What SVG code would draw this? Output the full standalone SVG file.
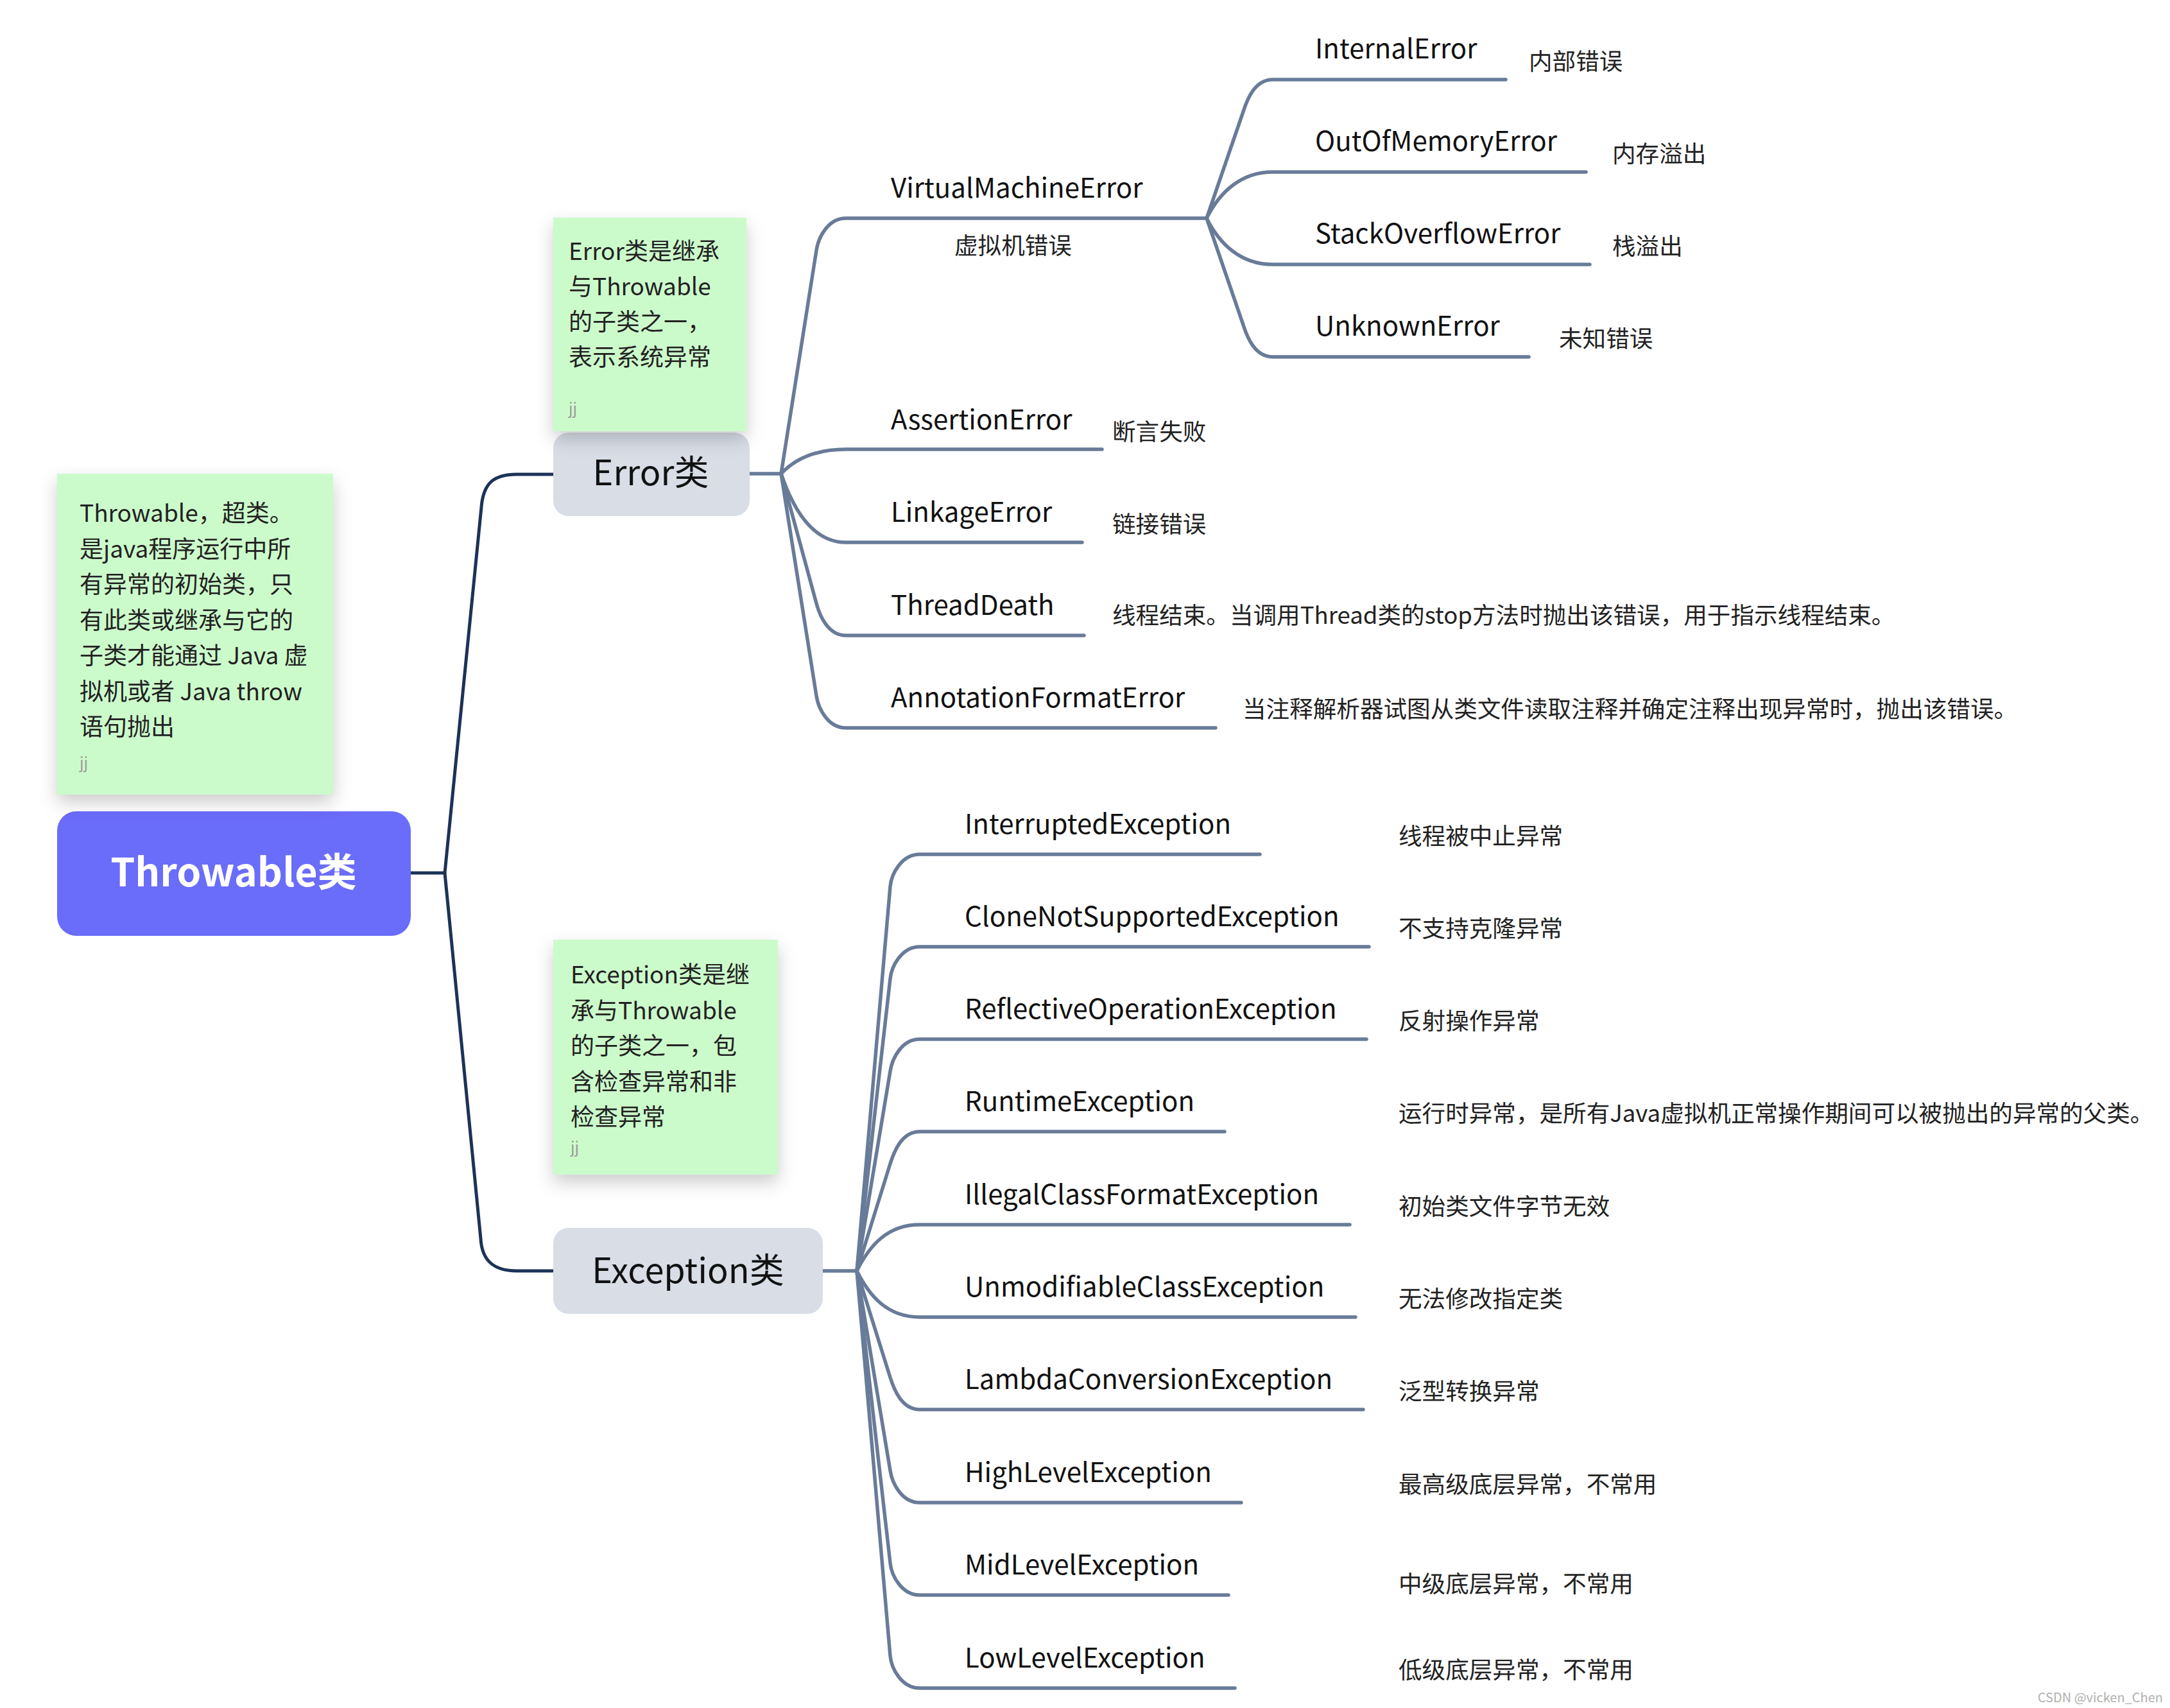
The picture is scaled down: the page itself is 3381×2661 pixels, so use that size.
<svg xmlns="http://www.w3.org/2000/svg" width="3381" height="2661" viewBox="0 0 3381 2661">
<defs>
<filter id="sh" x="-20%" y="-20%" width="140%" height="150%">
<feDropShadow dx="0" dy="12" stdDeviation="14" flood-color="#000" flood-opacity="0.2"/>
</filter>
<style>
text{font-family:"Noto Sans CJK SC","Noto Sans",sans-serif;}
.lbl{font-size:42px;fill:#111;}
.desc{font-size:36.6px;fill:#222;}
.note{font-size:37px;fill:#222;}
.jj{font-size:24px;fill:#9a9a9a;}
.l2t{font-size:54px;fill:#111;}
.navy{fill:none;stroke:#1c3357;stroke-width:5;stroke-linecap:round;stroke-linejoin:round;}
.slate{fill:none;stroke:#687b98;stroke-width:5.5;stroke-linecap:round;stroke-linejoin:round;}
.notebox{fill:#ccfbcb;filter:url(#sh);}
.l2{fill:#d8dde6;}
</style>
</defs>
<rect width="3381" height="2661" fill="#fff"/>

<g id="connectors">
<path class="navy" d="M640 1360 H693 L750 790 C753 752 770 739 805 739 L862 739"/>
<path class="navy" d="M693 1360 L749 1930 C751 1965 770 1980 805 1980 L861 1980"/>
<path class="slate" d="M1166 738 H1217"/>
<path class="slate" d="M1217 738 L1272 390 C1275 370 1290 340 1318 340 H1880"/>
<path class="slate" d="M1217 738 C1237 717 1268 700 1318 700 H1717"/>
<path class="slate" d="M1217 738 C1237 797 1268 845 1318 845 H1686"/>
<path class="slate" d="M1217 738 L1272 940 C1277 959 1290 990 1318 990 H1689"/>
<path class="slate" d="M1217 738 L1272 1084 C1275 1104 1290 1134 1318 1134 H1894"/>
<path class="slate" d="M1880 340 L1937 174 C1943 155 1955 124 1983 124 H2346"/>
<path class="slate" d="M1880 340 C1900 300 1933 268 1983 268 H2471"/>
<path class="slate" d="M1880 340 C1900 380 1933 412 1983 412 H2477"/>
<path class="slate" d="M1880 340 L1937 506 C1943 525 1955 556 1983 556 H2382"/>
<path class="slate" d="M1282 1980 H1335"/>
<path class="slate" d="M1335 1980 L1387 1381 C1389 1361 1405 1331 1433 1331 H1963"/>
<path class="slate" d="M1335 1980 L1387 1525 C1389 1505 1405 1475 1433 1475 H2133"/>
<path class="slate" d="M1335 1980 L1387 1669 C1390 1649 1405 1619 1433 1619 H2129"/>
<path class="slate" d="M1335 1980 L1387 1813 C1393 1794 1405 1763 1433 1763 H1908"/>
<path class="slate" d="M1335 1980 C1355 1940 1383 1908 1433 1908 H2103"/>
<path class="slate" d="M1335 1980 C1355 2020 1383 2052 1433 2052 H2112"/>
<path class="slate" d="M1335 1980 L1387 2146 C1393 2165 1405 2196 1433 2196 H2124"/>
<path class="slate" d="M1335 1980 L1387 2291 C1390 2311 1405 2341 1433 2341 H1934"/>
<path class="slate" d="M1335 1980 L1387 2435 C1389 2455 1405 2485 1433 2485 H1914"/>
<path class="slate" d="M1335 1980 L1387 2580 C1389 2600 1405 2630 1433 2630 H1924"/>
</g>

<g id="node-throwable">
<rect x="89" y="1264" width="551" height="194" rx="30" fill="#6a6cfa"/>
<text x="364" y="1381" text-anchor="middle" font-size="61" font-weight="bold" fill="#fff">Throwable类</text>
</g>
<g id="note-throwable">
<rect class="notebox" x="89" y="738" width="430" height="500"/>
<text class="note" x="124" y="813">Throwable，超类。</text>
<text class="note" x="124" y="869">是java程序运行中所</text>
<text class="note" x="124" y="924">有异常的初始类，只</text>
<text class="note" x="124" y="980">有此类或继承与它的</text>
<text class="note" x="124" y="1035">子类才能通过 Java 虚</text>
<text class="note" x="124" y="1091">拟机或者 Java throw</text>
<text class="note" x="124" y="1146">语句抛出</text>
<text class="jj" x="124" y="1197">jj</text>
</g>

<g id="node-error">
<rect class="l2" x="862" y="674" width="306" height="130" rx="24"/>
<text class="l2t" x="1014" y="756" text-anchor="middle">Error类</text>
</g>
<g id="note-error">
<rect class="notebox" x="862" y="339" width="301" height="333"/>
<text class="note" x="886" y="405">Error类是继承</text>
<text class="note" x="886" y="460">与Throwable</text>
<text class="note" x="886" y="515">的子类之一，</text>
<text class="note" x="886" y="570">表示系统异常</text>
<text class="jj" x="886" y="645">jj</text>
</g>

<g id="node-exception">
<rect class="l2" x="862" y="1913" width="420" height="134" rx="24"/>
<text class="l2t" x="1072" y="1999" text-anchor="middle" font-size="53">Exception类</text>
</g>
<g id="note-exception">
<rect class="notebox" x="862" y="1464" width="350" height="366"/>
<text class="note" x="889" y="1532">Exception类是继</text>
<text class="note" x="889" y="1588">承与Throwable</text>
<text class="note" x="889" y="1643">的子类之一，包</text>
<text class="note" x="889" y="1699">含检查异常和非</text>
<text class="note" x="889" y="1754">检查异常</text>
<text class="jj" x="889" y="1796">jj</text>
</g>

<g id="node-virtualmachineerror">
<text class="lbl" x="1388" y="308">VirtualMachineError</text>
<text class="desc" x="1487" y="396">虚拟机错误</text>
</g>
<g id="node-internalerror">
<text class="lbl" x="2049" y="91">InternalError</text>
<text class="desc" x="2382" y="109">内部错误</text>
</g>
<g id="node-outofmemoryerror">
<text class="lbl" x="2049" y="235">OutOfMemoryError</text>
<text class="desc" x="2512" y="253">内存溢出</text>
</g>
<g id="node-stackoverflowerror">
<text class="lbl" x="2049" y="379">StackOverflowError</text>
<text class="desc" x="2512" y="397">栈溢出</text>
</g>
<g id="node-unknownerror">
<text class="lbl" x="2049" y="523">UnknownError</text>
<text class="desc" x="2429" y="541">未知错误</text>
</g>
<g id="node-assertionerror">
<text class="lbl" x="1388" y="669">AssertionError</text>
<text class="desc" x="1733" y="686">断言失败</text>
</g>
<g id="node-linkageerror">
<text class="lbl" x="1388" y="813">LinkageError</text>
<text class="desc" x="1733" y="830">链接错误</text>
</g>
<g id="node-threaddeath">
<text class="lbl" x="1388" y="958">ThreadDeath</text>
<text class="desc" x="1733" y="972">线程结束。当调用Thread类的stop方法时抛出该错误，用于指示线程结束。</text>
</g>
<g id="node-annotationformaterror">
<text class="lbl" x="1388" y="1102">AnnotationFormatError</text>
<text class="desc" x="1936" y="1118">当注释解析器试图从类文件读取注释并确定注释出现异常时，抛出该错误。</text>
</g>

<g id="node-interruptedexception">
<text class="lbl" x="1503" y="1299">InterruptedException</text>
<text class="desc" x="2179" y="1316">线程被中止异常</text>
</g>
<g id="node-clonenotsupportedexception">
<text class="lbl" x="1503" y="1443">CloneNotSupportedException</text>
<text class="desc" x="2179" y="1460">不支持克隆异常</text>
</g>
<g id="node-reflectiveoperationexception">
<text class="lbl" x="1503" y="1587">ReflectiveOperationException</text>
<text class="desc" x="2179" y="1604">反射操作异常</text>
</g>
<g id="node-runtimeexception">
<text class="lbl" x="1503" y="1731">RuntimeException</text>
<text class="desc" x="2179" y="1748">运行时异常，是所有Java虚拟机正常操作期间可以被抛出的异常的父类。</text>
</g>
<g id="node-illegalclassformatexception">
<text class="lbl" x="1503" y="1876">IllegalClassFormatException</text>
<text class="desc" x="2179" y="1893">初始类文件字节无效</text>
</g>
<g id="node-unmodifiableclassexception">
<text class="lbl" x="1503" y="2020">UnmodifiableClassException</text>
<text class="desc" x="2179" y="2037">无法修改指定类</text>
</g>
<g id="node-lambdaconversionexception">
<text class="lbl" x="1503" y="2164">LambdaConversionException</text>
<text class="desc" x="2179" y="2181">泛型转换异常</text>
</g>
<g id="node-highlevelexception">
<text class="lbl" x="1503" y="2309">HighLevelException</text>
<text class="desc" x="2179" y="2326">最高级底层异常，不常用</text>
</g>
<g id="node-midlevelexception">
<text class="lbl" x="1503" y="2453">MidLevelException</text>
<text class="desc" x="2179" y="2481">中级底层异常，不常用</text>
</g>
<g id="node-lowlevelexception">
<text class="lbl" x="1503" y="2598">LowLevelException</text>
<text class="desc" x="2179" y="2615">低级底层异常，不常用</text>
</g>

<text x="3370" y="2652" text-anchor="end" font-family="Liberation Sans, Arial, sans-serif" font-size="20" fill="#b0b0b0">CSDN @vicken_Chen</text>
</svg>
